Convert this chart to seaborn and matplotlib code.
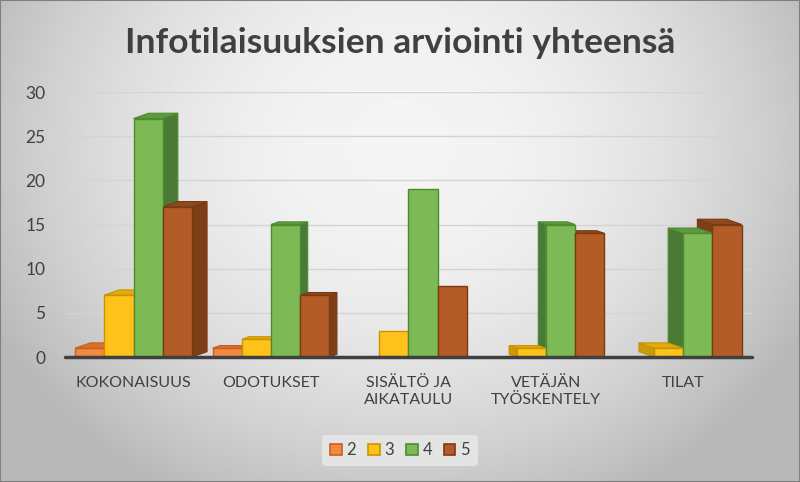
import matplotlib.pyplot as plt
import numpy as np
import pandas as pd
import seaborn as sns
from matplotlib.patches import Polygon, Rectangle

# Chart data
categories = ["KOKONAISUUS", "ODOTUKSET", "SISÄLTÖ JA\nAIKATAULU", "VETÄJÄN\nTYÖSKENTELY", "TILAT"]
series = ["2", "3", "4", "5"]
vals_2 = [1, 1, 0, 0, 0]
vals_3 = [7, 2, 3, 1, 1]
vals_4 = [27, 15, 19, 15, 14]
vals_5 = [17, 7, 8, 14, 15]
y_ticks = [0, 5, 10, 15, 20, 25, 30]

face_colors = ["#F08A3E", "#FFC21A", "#7DBA55", "#B45C27"]
edge_colors = ["#C8601F", "#C99400", "#4E8A30", "#7A3A12"]
side_colors = ["#C0602A", "#C79A10", "#4A7A35", "#7C3F18"]
top_colors = ["#D8702E", "#E0AA10", "#5E9A40", "#8E4A1C"]

df = pd.DataFrame({
    "Kategoria": categories * 4,
    "Arvo": vals_2 + vals_3 + vals_4 + vals_5,
    "Arvosana": [s for s in series for _ in categories],
})

sns.set_style("white")
plt.rcParams["font.family"] = ["Lato", "DejaVu Sans"]

fig = plt.figure(figsize=(8.0, 4.82), dpi=100)

# gray radial background like the Excel chart style
bg = fig.add_axes([0, 0, 1, 1], zorder=-5)
gx, gy = np.meshgrid(np.linspace(0, 1, 400), np.linspace(0, 1, 240))
r = np.sqrt(((gx - 0.5) / 0.55) ** 2 + ((gy - 0.3) / 0.8) ** 2)
shade = np.clip(0.96 - 0.22 * r ** 2, 0.72, 0.96)
bg.imshow(shade, cmap="gray", vmin=0, vmax=1, aspect="auto", extent=[0, 1, 1, 0])
bg.set_axis_off()
fig.patches.append(Rectangle((0, 0), 1, 1, transform=fig.transFigure, fill=False,
                             edgecolor="#7F7F7F", linewidth=1.5))

ax = fig.add_axes([0.081, 0.2593, 0.859, 0.5498])
ax.set_facecolor("none")

sns.barplot(data=df, x="Kategoria", y="Arvo", hue="Arvosana", palette=face_colors,
            width=0.85, saturation=1, ax=ax, legend=False, zorder=3)

# darker edges plus side and top faces to hint at the 3D look
for i, cont in enumerate(ax.containers):
    for j, bar in enumerate(cont):
        bar.set_edgecolor(edge_colors[i])
        bar.set_linewidth(1.0)
        h = bar.get_height()
        off = 2 - j
        if h <= 0 or off == 0:
            continue
        d = 0.055 * abs(off)
        dy = 0.3 * abs(off)
        sgn = 1 if off > 0 else -1
        xl = bar.get_x()
        xr = xl + bar.get_width()
        x0 = xr if off > 0 else xl
        x1 = x0 + sgn * d
        ax.add_patch(Polygon([(x0, 0), (x1, dy), (x1, h + dy), (x0, h)], closed=True,
                             facecolor=side_colors[i], edgecolor=edge_colors[i],
                             linewidth=0.8, zorder=2.5))
        ax.add_patch(Polygon([(xl, h), (xl + sgn * d, h + dy), (xr + sgn * d, h + dy), (xr, h)],
                             closed=True, facecolor=top_colors[i], edgecolor=edge_colors[i],
                             linewidth=0.8, zorder=2.6))

ax.set_ylim(0, 30)
ax.set_xlim(-0.5, 4.5)
ax.set_yticks(y_ticks)
ax.set_yticklabels([str(t) for t in y_ticks])
ax.yaxis.grid(True, color="#D4D4D4", linewidth=1.0, zorder=0)
ax.set_axisbelow(True)
for s in ax.spines.values():
    s.set_visible(False)
ax.axhline(0, color="#404040", linewidth=2.5, zorder=4, clip_on=False)
ax.set_xlabel("")
ax.set_ylabel("")
ax.tick_params(axis="both", length=0, labelsize=12.5, colors="#404040")
ax.tick_params(axis="x", pad=14, labelsize=11.5)
ax.tick_params(axis="y", pad=14)

handles = [Rectangle((0, 0), 1, 1, facecolor=face_colors[k], edgecolor=edge_colors[k],
                     linewidth=1.2) for k in range(4)]
leg = fig.legend(handles, series, loc="center", bbox_to_anchor=(0.5, 0.066), ncol=4,
                 frameon=True, fontsize=12, handlelength=0.7, handleheight=0.7,
                 handletextpad=0.3, columnspacing=0.7, borderpad=0.45)
leg.get_frame().set_facecolor("#E4E4E4")
leg.get_frame().set_edgecolor("none")
leg.get_frame().set_alpha(1)
for t in leg.get_texts():
    t.set_color("#404040")

fig.text(0.5, 0.91, "Infotilaisuuksien arviointi yhteensä", ha="center", va="center",
         fontsize=25.5, fontweight="bold", color="#404040")

fig.savefig("out.png", dpi=100)
